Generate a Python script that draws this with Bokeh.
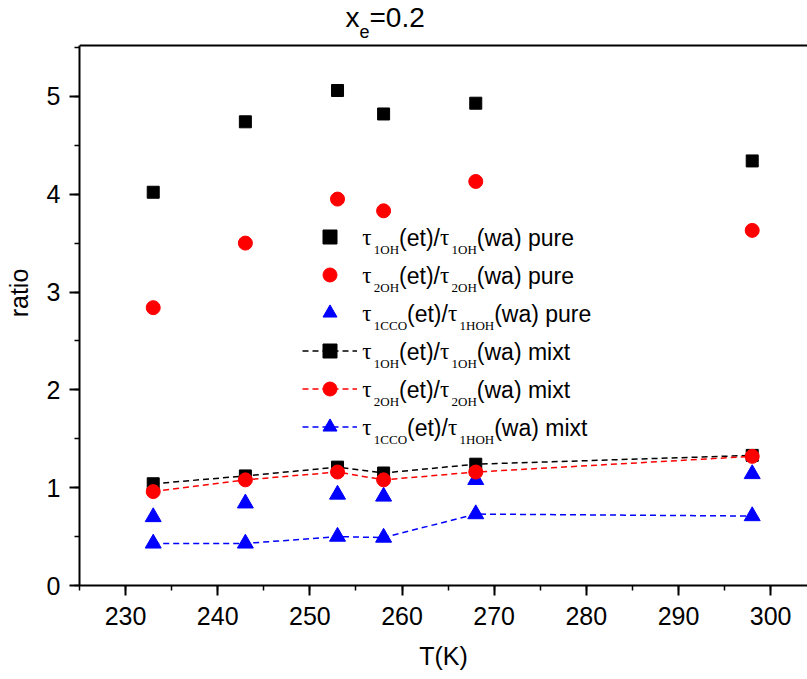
from bokeh.plotting import figure
from bokeh.models import (Range1d, SingleIntervalTicker, Legend, LegendItem, Label, Span)
from bokeh.core.properties import value
from bokeh.embed import file_html
from bokeh.resources import INLINE

# ---------------- data ----------------
T = [233, 243, 253, 258, 268, 298]
pure_1OH = [4.02, 4.74, 5.06, 4.82, 4.93, 4.34]
pure_2OH = [2.84, 3.50, 3.95, 3.83, 4.13, 3.63]
pure_1CCO = [0.70, 0.84, 0.93, 0.91, 1.08, 1.14]
mixt_1OH = [1.04, 1.12, 1.21, 1.15, 1.24, 1.33]
mixt_2OH = [0.96, 1.08, 1.16, 1.08, 1.16, 1.32]
mixt_1CCO = [0.43, 0.43, 0.50, 0.49, 0.73, 0.71]

legend_subs = [("1OH", "1OH", " pure"), ("2OH", "2OH", " pure"), ("1CCO", "1HOH", " pure"),
               ("1OH", "1OH", " mixt"), ("2OH", "2OH", " mixt"), ("1CCO", "1HOH", " mixt")]

# ---------------- layout ----------------
W, H = 807, 679
ML, MB = 79, 94            # frame left / bottom border (page px)
FRAME_BOTTOM = H - MB      # 585
FW = W - ML                # 728
X0, X1 = 225.0, 304.0
Y_AX_TOP = 5.52            # top of the drawn axes box
PX_PER_Y = 540 / Y_AX_TOP  # box spans page y 45..585
Y1 = FRAME_BOTTOM / PX_PER_Y   # frame extended up to page top (room for title)

p = figure(width=W, height=H, output_backend="svg", toolbar_location=None, title=None,
           x_range=Range1d(X0, X1), y_range=Range1d(0, Y1),
           min_border_left=ML, min_border_right=0, min_border_top=0, min_border_bottom=MB)
p.grid.visible = False
p.outline_line_color = None
p.background_fill_color = "white"
p.border_fill_color = "white"

FONT = "Liberation Sans"
SERIF = "Liberation Serif"

for ax in (p.xaxis[0], p.yaxis[0]):
    ax.axis_line_width = 2
    ax.major_tick_line_width = 2
    ax.minor_tick_line_width = 1.5
    ax.major_tick_in = 0
    ax.major_tick_out = 10
    ax.minor_tick_in = 0
    ax.minor_tick_out = 5
    ax.major_label_text_font = FONT
    ax.major_label_text_font_size = "25px"
    ax.major_label_text_color = "black"
    ax.axis_label_text_font = FONT
    ax.axis_label_text_font_size = "25px"
    ax.axis_label_text_font_style = "normal"
    ax.axis_label_text_color = "black"

p.xaxis[0].ticker = SingleIntervalTicker(interval=10, num_minor_ticks=2)
p.yaxis[0].ticker = SingleIntervalTicker(interval=1, num_minor_ticks=2)
p.yaxis[0].bounds = (0, Y_AX_TOP)
p.xaxis[0].axis_label = "T(K)"
p.yaxis[0].axis_label = "ratio"
p.xaxis[0].major_label_standoff = 11
p.xaxis[0].axis_label_standoff = 14
p.yaxis[0].major_label_standoff = 9
p.yaxis[0].axis_label_standoff = 11

# top edge of the axes box
p.add_layout(Span(location=Y_AX_TOP, dimension="width", line_color="black", line_width=2))

# ---------------- glyphs ----------------
dash = "6 4"
r_p1 = p.scatter(T, pure_1OH, marker="square", size=12, color="black")
r_p2 = p.scatter(T, pure_2OH, marker="circle", size=14, color="red")
r_p3 = p.scatter(T, pure_1CCO, marker="triangle", size=16, color="blue")

l_m1 = p.line(T, mixt_1OH, line_color="black", line_dash=dash, line_width=1.5)
r_m1 = p.scatter(T, mixt_1OH, marker="square", size=12, color="black")
l_m2 = p.line(T, mixt_2OH, line_color="red", line_dash=dash, line_width=1.5)
r_m2 = p.scatter(T, mixt_2OH, marker="circle", size=14, color="red")
l_m3 = p.line(T, mixt_1CCO, line_color="blue", line_dash=dash, line_width=1.5)
r_m3 = p.scatter(T, mixt_1CCO, marker="triangle", size=16, color="blue")

# ---------------- legend (glyphs) ----------------
GH, SP = 35, 3
leg_left_px = 302
row0_center_px = 236.7
n_rows = 6
leg_bottom_px = row0_center_px - GH / 2 + n_rows * GH + (n_rows - 1) * SP
legend = Legend(items=[
    LegendItem(label=value(" "), renderers=[r_p1]),
    LegendItem(label=value(" "), renderers=[r_p2]),
    LegendItem(label=value(" "), renderers=[r_p3]),
    LegendItem(label=value(" "), renderers=[l_m1, r_m1]),
    LegendItem(label=value(" "), renderers=[l_m2, r_m2]),
    LegendItem(label=value(" "), renderers=[l_m3, r_m3]),
], location=(leg_left_px - ML, FRAME_BOTTOM - leg_bottom_px),
    padding=0, margin=0, spacing=SP, glyph_width=55, glyph_height=GH,
    label_width=0, label_height=0, label_standoff=0, label_text_font_size="1px",
    border_line_alpha=0, background_fill_alpha=0)
p.add_layout(legend)

# ---------------- rich text labels ----------------
def dx(px):
    return X0 + (px - ML) * (X1 - X0) / FW

def dy(py):
    return (FRAME_BOTTOM - py) / PX_PER_Y

SANS_W = {'(': 333, ')': 333, 'e': 556, 't': 278, '/': 278, 'w': 722, 'a': 556, ' ': 278,
          'p': 556, 'u': 556, 'r': 333, 'm': 833, 'i': 222, 'x': 500, '=': 584, '0': 556,
          '.': 278, '2': 556}
SERIF_W = {'1': 500, '2': 500, 'O': 722, 'H': 722, 'C': 667}
MID = {FONT: 0.3465, SERIF: 0.3375}   # (ascent - descent)/2 in em

def width(s, table, size):
    return sum(table[c] for c in s) / 1000.0 * size

MAIN, SUB = 23, 13
TAU_ADV = 11.6

def add_piece(px, baseline_py, text, font, size):
    # anchor on the middle of the font box so that the alphabetic baseline lands on baseline_py
    py = baseline_py - MID[font] * size
    p.add_layout(Label(x=dx(px), y=dy(py), text=text, text_font=font,
                       text_font_size=f"{size}px", text_color="black",
                       text_baseline="middle", text_align="left"))

for i, (s1, s2, tail) in enumerate(legend_subs):
    cy = row0_center_px + i * (GH + SP)
    base = cy + 8.3
    sub_base = cy + 16.6
    x = 361.7
    add_piece(x, base, "τ", SERIF, MAIN); x += TAU_ADV
    add_piece(x, sub_base, s1, SERIF, SUB); x += width(s1, SERIF_W, SUB)
    add_piece(x, base, "(et)/", FONT, MAIN); x += width("(et)/", SANS_W, MAIN)
    add_piece(x, base, "τ", SERIF, MAIN); x += TAU_ADV
    add_piece(x, sub_base, s2, SERIF, SUB); x += width(s2, SERIF_W, SUB)
    add_piece(x, base, "(wa)" + tail, FONT, MAIN)

# title x_e=0.2
tx = 345
add_piece(tx, 27, "x", FONT, 28); tx += width("x", SANS_W, 28)
add_piece(tx, 37.5, "e", FONT, 18); tx += width("e", SANS_W, 18)
add_piece(tx, 27, "=0.2", FONT, 28)

open("out.html", "w").write(file_html(p, INLINE))
